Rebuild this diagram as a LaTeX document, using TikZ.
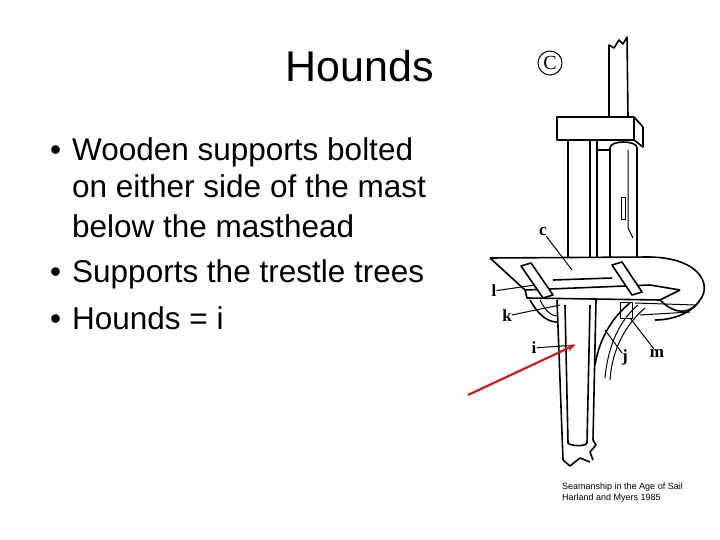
\documentclass[tikz,border=0pt]{standalone}
\usepackage{fontspec}
\setmainfont{Liberation Sans}
\newfontfamily\labfont{Liberation Serif}
\usetikzlibrary{arrows.meta}
\definecolor{arrred}{RGB}{200,30,30}
\begin{document}
\begin{tikzpicture}[x=1pt,y=-1pt,
  bul/.style={anchor=base west,font=\fontsize{31.5}{36}\selectfont,inner sep=0},
  lab/.style={font=\fontsize{17}{18}\selectfont\labfont\bfseries,inner sep=0},
  ink/.style={draw=black,line width=1.6pt,line join=round},
  thin/.style={draw=black,line width=1pt}]
\useasboundingbox (0,0) rectangle (720,540);
\fill[white] (0,0) rectangle (720,540);
\node[anchor=base,font=\fontsize{43}{48}\selectfont,inner sep=0] (title) at (360,82) {Hounds};
\node[bul] (b1) at (50,161) {•};
\node[bul] (t1) at (72,161) {Wooden supports bolted};
\node[bul] (t1b) at (72,198) {on either side of the mast};
\node[bul] (t1c) at (72,237) {below the masthead};
\node[bul] (b2) at (50,282) {•};
\node[bul] (t2) at (72,282) {Supports the trestle trees};
\node[bul] (b3) at (50,329) {•};
\node[bul] (t3) at (72,329) {Hounds = i};
% circled C
\node[draw,circle,line width=1pt,minimum size=24pt,inner sep=0,font=\fontsize{20}{20}\selectfont\labfont] (cc) at (550,63) {C};
% topmast
\draw[ink] (609,117) -- (609,45) -- (614,48) -- (619,40) -- (623,44) -- (627,37) -- (628,117);
% cap
\draw[ink,fill=white] (557,117) rectangle (634,140);
\draw[ink] (634,117) -- (643,127) -- (643,147) -- (634,140);
% lower masthead pillars
\draw[ink] (568,140) -- (568,258);
\draw[ink] (597,140) -- (597,258);
\draw[ink] (590,140) -- (590,258);
\draw[ink] (610,258) -- (610,148) .. controls (610,140) and (637,140) .. (637,148) -- (637,258);
\draw[ink] (597,150) -- (610,150);
\draw[thin] (621,198) rectangle (625,220);
\draw[thin] (628,150) -- (628,228) -- (633,238);
% top plate
\draw[ink,fill=white] (490,258) -- (650,257) .. controls (700,258) and (712,285) .. (700,300) .. controls (690,315) and (670,320) .. (655,320);
\draw[ink] (490,258) -- (525,290) -- (650,285) -- (680,290);
\draw[ink] (525,290) -- (527,298) -- (660,300) -- (680,290);
\draw[ink] (660,300) .. controls (675,315) and (690,315) .. (700,300);
% crosstrees (l)
\draw[ink,fill=white] (521,266) -- (531,263) -- (553,295) -- (543,298) -- cycle;
\draw[ink,fill=white] (612,265) -- (622,262) -- (642,292) -- (632,295) -- cycle;
\draw[ink] (553,280) -- (612,278);
% lower mast
\draw[ink] (557,300) -- (563,460);
\draw[ink] (596,300) -- (593,440) -- (596,445) -- (590,452) -- (593,460);
\draw[ink] (563,460) -- (570,466) -- (580,458) -- (590,462);
\draw[ink] (565,305) -- (568,443) .. controls (570,446) and (585,447) .. (587,443) -- (590,305);
% hounds/cheeks and ropes
\draw[ink] (530,300) .. controls (540,318) and (550,322) .. (557,322);
\draw[thin] (540,300) .. controls (546,312) and (552,316) .. (557,316);
\draw[ink] (595,365) .. controls (600,335) and (615,315) .. (630,303);
\draw[thin] (605,378) .. controls (608,345) and (620,320) .. (638,305);
\draw[thin] (610,380) .. controls (612,350) and (625,325) .. (645,308);
\draw[thin] (620,302) rectangle (632,318);
\draw[thin] (635,303) -- (695,305);
\draw[thin] (640,315) -- (690,312);
% labels and leaders
\node[lab] (lc) at (543,232) {c};
\node[lab] (ll) at (494,291) {l};
\node[lab] (lk) at (507,316) {k};
\node[lab] (li) at (534,348) {i};
\node[lab] (lj) at (625,357) {j};
\node[lab] (lm) at (657,353) {m};
\coordinate (pc) at (572,270);
\coordinate (pl) at (535,285);
\coordinate (pk) at (560,305);
\coordinate (pi) at (575,345);
\coordinate (pj) at (605,330);
\coordinate (pm) at (630,318);
\draw[thin] (lc) -- (pc);
\draw[thin] (ll) -- (pl);
\draw[thin] (lk) -- (pk);
\draw[thin] (li) -- (pi);
\draw[thin] (lj) -- (pj);
\draw[thin] (lm) -- (pm);
% red arrow
\coordinate (ra) at (468,395);
\draw[draw=arrred,line width=2.2pt,-{Stealth[length=8pt,width=7pt]}] (ra) -- (pi);
% credit
\node[anchor=base west,font=\fontsize{9}{10}\selectfont,inner sep=0] (cr1) at (562,489) {Seamanship in the Age of Sail};
\node[anchor=base west,font=\fontsize{9}{10}\selectfont,inner sep=0] (cr2) at (562,500) {Harland and Myers 1985};
\end{tikzpicture}
\end{document}
